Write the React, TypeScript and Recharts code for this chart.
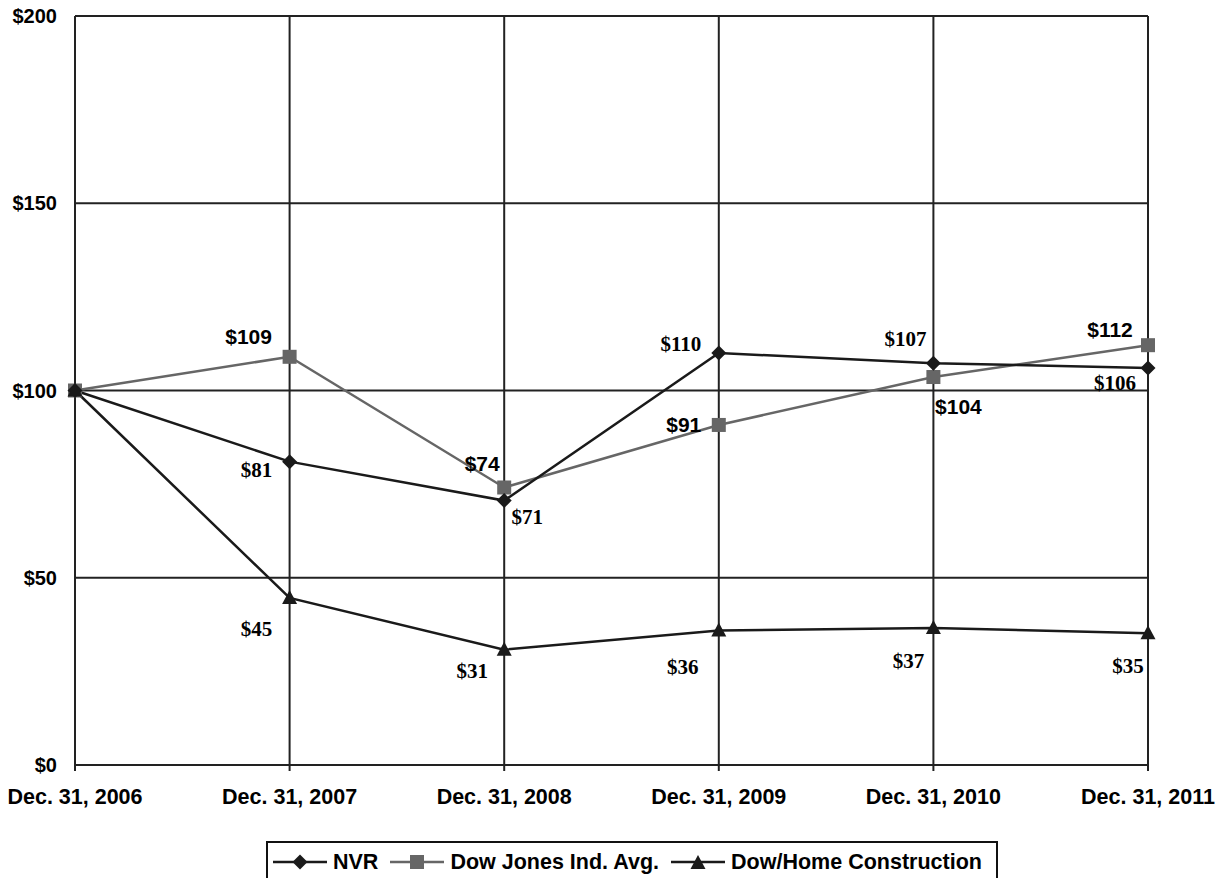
import React from 'react';
import { LineChart, Line, XAxis, YAxis, CartesianGrid, LabelList } from 'recharts';

const dates = ['Dec. 31, 2006', 'Dec. 31, 2007', 'Dec. 31, 2008', 'Dec. 31, 2009', 'Dec. 31, 2010', 'Dec. 31, 2011'];
const nvr = [100, 81.0, 70.6, 110.0, 107.3, 106.0];
const dowJones = [100, 109.0, 74.1, 90.8, 103.6, 112.1];
const homeConstruction = [100, 44.6, 30.8, 35.9, 36.6, 35.2];
const yTicks = [0, 50, 100, 150, 200];

// label offsets from each point (dx, dy), first point unlabeled
const nvrLabelPos = [null, [-33, 8], [23, 16], [-38, -9], [-28, -24], [-33, 15]];
const djLabelPos = [null, [-41, -20], [-22, -24], [-35, 0], [25, 29], [-38, -16]];
const homeLabelPos = [null, [-33, 31], [-32, 21], [-36, 36], [-25, 33], [-20, 33]];

const SANS = '"Liberation Sans", Arial, sans-serif';
const SERIF = '"Liberation Serif", "Times New Roman", serif';
const DARK = '#1a1a1a';
const GREY = '#666666';

const data = dates.map((date, i) => ({
  date,
  nvr: nvr[i],
  dj: dowJones[i],
  home: homeConstruction[i],
}));

const Diamond = ({ cx, cy }: any) => (
  <path d={`M${cx},${cy - 7.5}L${cx + 7.5},${cy}L${cx},${cy + 7.5}L${cx - 7.5},${cy}Z`} fill={DARK} />
);
const Square = ({ cx, cy }: any) => <rect x={cx - 7} y={cy - 7} width={14} height={14} fill={GREY} />;
const Triangle = ({ cx, cy }: any) => (
  <path d={`M${cx},${cy - 8}L${cx + 7.5},${cy + 6}L${cx - 7.5},${cy + 6}Z`} fill={DARK} />
);

const makeLabel = (pos: any[], font: string) => (props: any) => {
  const { x, y, value, index } = props;
  const p = pos[index];
  if (!p) return null;
  return (
    <text
      x={x + p[0]}
      y={y + p[1]}
      textAnchor="middle"
      dominantBaseline="central"
      fontFamily={font}
      fontWeight="bold"
      fontSize={21}
      fill="#000"
    >
      {`$${Math.round(value)}`}
    </text>
  );
};

const legendItems = [
  { name: 'NVR', color: DARK, marker: 'diamond' },
  { name: 'Dow Jones Ind. Avg.', color: GREY, marker: 'square' },
  { name: 'Dow/Home Construction', color: DARK, marker: 'triangle' },
];

const LegendSymbol = ({ color, marker }: { color: string; marker: string }) => (
  <svg width={58} height={20} style={{ display: 'block' }}>
    <line x1={2} y1={10} x2={56} y2={10} stroke={color} strokeWidth={2.5} />
    {marker === 'diamond' && <Diamond cx={29} cy={10} />}
    {marker === 'square' && <Square cx={29} cy={10} />}
    {marker === 'triangle' && <Triangle cx={29} cy={11} />}
  </svg>
);

export default function App() {
  return (
    <div style={{ position: 'absolute', left: 0, top: 0, width: 1220, height: 878, overflow: 'hidden', background: '#fff' }}>
      <LineChart width={1220} height={870} data={data} margin={{ top: 16, right: 72, bottom: 65, left: 5 }}>
        <CartesianGrid stroke="#222" strokeWidth={2} strokeOpacity={1} />
        <XAxis
          dataKey="date"
          interval={0}
          height={40}
          tickSize={6}
          tickMargin={18}
          tickLine={{ stroke: '#222', strokeWidth: 2 }}
          axisLine={{ stroke: '#222', strokeWidth: 2 }}
          tick={{ fill: '#000', fontFamily: SANS, fontWeight: 'bold', fontSize: 21.5 }}
        />
        <YAxis
          domain={[0, 200]}
          ticks={yTicks}
          width={70}
          tickLine={false}
          tickMargin={12}
          axisLine={{ stroke: '#222', strokeWidth: 2 }}
          tickFormatter={(v: number) => `$${v}`}
          tick={{ fill: '#000', fontFamily: SANS, fontWeight: 'bold', fontSize: 20 }}
        />
        <Line dataKey="dj" stroke={GREY} strokeWidth={2.5} dot={<Square />} activeDot={false} isAnimationActive={false}>
          <LabelList dataKey="dj" content={makeLabel(djLabelPos, SANS)} />
        </Line>
        <Line dataKey="nvr" stroke={DARK} strokeWidth={2.5} dot={<Diamond />} activeDot={false} isAnimationActive={false}>
          <LabelList dataKey="nvr" content={makeLabel(nvrLabelPos, SERIF)} />
        </Line>
        <Line dataKey="home" stroke={DARK} strokeWidth={2.5} dot={<Triangle />} activeDot={false} isAnimationActive={false}>
          <LabelList dataKey="home" content={makeLabel(homeLabelPos, SERIF)} />
        </Line>
      </LineChart>
      <div
        style={{
          position: 'absolute',
          left: 266,
          top: 841,
          width: 732,
          height: 42,
          border: '2px solid #111',
          display: 'flex',
          alignItems: 'center',
          paddingLeft: 3,
          boxSizing: 'border-box',
          fontFamily: SANS,
          fontWeight: 'bold',
          fontSize: 21.5,
          color: '#000',
          overflow: 'hidden',
          whiteSpace: 'nowrap',
        }}
      >
        {legendItems.map((it) => (
          <div key={it.name} style={{ display: 'flex', alignItems: 'center', marginRight: 10 }}>
            <LegendSymbol color={it.color} marker={it.marker} />
            <span style={{ marginLeft: 4 }}>{it.name}</span>
          </div>
        ))}
      </div>
    </div>
  );
}
